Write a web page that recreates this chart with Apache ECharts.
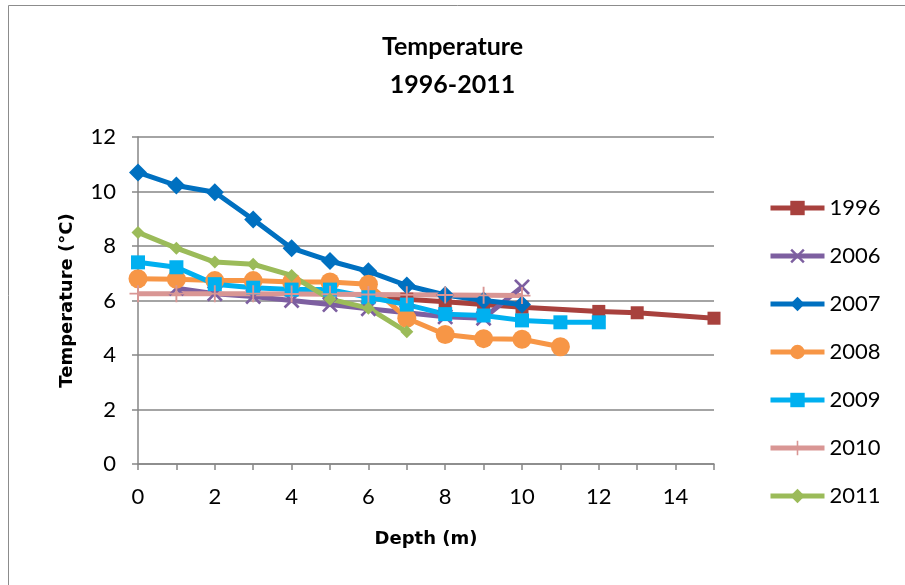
<!DOCTYPE html>
<html>
<head>
<meta charset="utf-8">
<script src="https://cdn.jsdelivr.net/npm/echarts@6/dist/echarts.min.js"></script>
<style>html,body{margin:0;padding:0;background:#fff;}#c{width:905px;height:585px;}</style>
</head>
<body>
<div id="c"></div>
<script>
var depth1996 = [6, 7, 8, 9, 10, 12, 13, 15];
var temp1996  = [6.15, 6.05, 5.95, 5.85, 5.75, 5.6, 5.55, 5.35];
var depth2006 = [1, 2, 3, 4, 5, 6, 7, 8, 9, 10];
var temp2006  = [6.45, 6.25, 6.15, 6.0, 5.85, 5.7, 5.55, 5.4, 5.35, 6.5];
var depth2007 = [0, 1, 2, 3, 4, 5, 6, 7, 8, 9, 10];
var temp2007  = [10.7, 10.22, 9.97, 8.97, 7.92, 7.45, 7.07, 6.55, 6.2, 6.0, 5.85];
var depth2008 = [0, 1, 2, 3, 4, 5, 6, 7, 8, 9, 10, 11];
var temp2008  = [6.8, 6.78, 6.73, 6.73, 6.68, 6.68, 6.6, 5.35, 4.75, 4.6, 4.58, 4.3];
var depth2009 = [0, 1, 2, 3, 4, 5, 6, 7, 8, 9, 10, 11, 12];
var temp2009  = [7.4, 7.22, 6.6, 6.47, 6.4, 6.4, 6.12, 5.85, 5.5, 5.45, 5.27, 5.2, 5.2];
var depth2010 = [0, 1, 2, 3, 4, 5, 6, 7, 8, 9, 10];
var temp2010  = [6.25, 6.25, 6.25, 6.25, 6.24, 6.23, 6.22, 6.21, 6.2, 6.19, 6.18];
var depth2011 = [0, 1, 2, 3, 4, 5, 6, 7];
var temp2011  = [8.5, 7.92, 7.41, 7.33, 6.92, 6.05, 5.72, 4.85];

var xTicks = [0, 2, 4, 6, 8, 10, 12, 14];
var yTicks = [0, 2, 4, 6, 8, 10, 12];

function pairs(xs, ys) { return xs.map(function (x, i) { return [x, ys[i]]; }); }

var FONT = 'Lato, "Open Sans", sans-serif';
var NAMEFONT = '"DejaVu Sans", Verdana, sans-serif';
var SYM_X = 'path://M0,1.2L1.2,0L5,3.8L8.8,0L10,1.2L6.2,5L10,8.8L8.8,10L5,6.2L1.2,10L0,8.8L3.8,5Z';
var SYM_PLUS = 'path://M4.45,0H5.55V4.45H10V5.55H5.55V10H4.45V5.55H0V4.45H4.45Z';

function mk(name, xs, ys, color, symbol, size) {
  return {
    name: name, type: 'line', data: pairs(xs, ys),
    symbol: symbol, symbolSize: size, showSymbol: true,
    lineStyle: { color: color, width: 5 },
    itemStyle: { color: color, borderWidth: 0 },
    emphasis: { disabled: true },
    z: 2
  };
}

var chart = echarts.init(document.getElementById('c'), null, { renderer: 'canvas' });
chart.setOption({
  animation: false,
  backgroundColor: '#ffffff',
  textStyle: { fontFamily: FONT },
  graphic: [{
    type: 'rect', silent: true,
    shape: { x: 8.5, y: 5.5, width: 920, height: 620 },
    style: { fill: 'none', stroke: '#8c8c8c', lineWidth: 1 }
  }],
  title: {
    text: 'Temperature\n1996-2011',
    left: 'center', top: 23,
    textStyle: { fontFamily: FONT, fontWeight: 'bold', fontSize: 25, color: '#000', lineHeight: 38 }
  },
  grid: { left: 138, right: 191, top: 137, bottom: 121, containLabel: false },
  legend: {
    orient: 'vertical', left: 763, top: 192,
    itemWidth: 54, itemHeight: 18, itemGap: 26,
    lineStyle: { width: 5 },
    itemStyle: { borderWidth: 0 },
    textStyle: { fontFamily: FONT, fontSize: 22, color: '#000', lineHeight: 22 },
    data: ['1996', '2006', '2007', '2008', '2009', '2010', '2011']
  },
  xAxis: {
    type: 'value', min: 0, max: 15, interval: 1,
    name: 'Depth (m)', nameLocation: 'middle', nameGap: 66,
    nameTextStyle: { fontFamily: NAMEFONT, fontWeight: 'bold', fontSize: 18, color: '#000' },
    axisLine: { show: true, onZero: false, lineStyle: { color: '#868686', width: 1.5 } },
    axisTick: { show: true, length: 6, lineStyle: { color: '#868686', width: 1.5 } },
    axisLabel: {
      fontFamily: FONT, fontSize: 22, color: '#000', margin: 22,
      formatter: function (v) { return xTicks.indexOf(v) >= 0 ? String(v) : ''; }
    },
    splitLine: { show: false }
  },
  yAxis: {
    type: 'value', min: 0, max: 12, interval: 2,
    name: 'Temperature (°C)', nameLocation: 'middle', nameGap: 62,
    nameTextStyle: { fontFamily: NAMEFONT, fontWeight: 'bold', fontSize: 18, color: '#000' },
    axisLine: { show: true, lineStyle: { color: '#868686', width: 1.5 } },
    axisTick: { show: true, length: 6, lineStyle: { color: '#868686', width: 1.5 } },
    axisLabel: {
      fontFamily: FONT, fontSize: 22, color: '#000', margin: 22,
      formatter: function (v) { return yTicks.indexOf(v) >= 0 ? String(v) : ''; }
    },
    splitLine: { show: true, lineStyle: { color: '#868686', width: 1.5 } }
  },
  series: [
    mk('1996', depth1996, temp1996, '#A8413D', 'rect', 13),
    mk('2006', depth2006, temp2006, '#7D5FA0', SYM_X, 16),
    mk('2007', depth2007, temp2007, '#0070C0', 'diamond', 18),
    mk('2008', depth2008, temp2008, '#F79646', 'circle', 19),
    mk('2009', depth2009, temp2009, '#00B0F0', 'rect', 14),
    mk('2010', depth2010, temp2010, '#D99694', SYM_PLUS, 17),
    mk('2011', depth2011, temp2011, '#9BBB59', 'diamond', 13)
  ]
});
</script>
</body>
</html>
